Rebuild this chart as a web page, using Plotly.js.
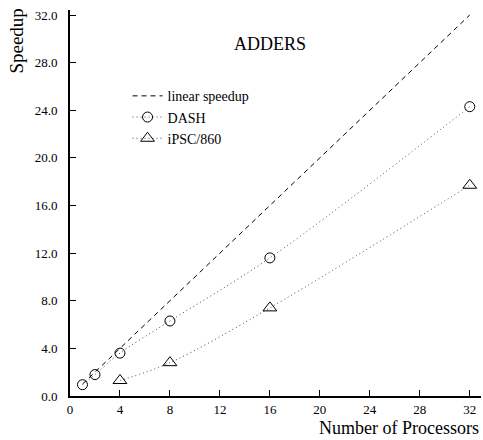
<!DOCTYPE html>
<html><head><meta charset="utf-8">
<script src="https://cdn.plot.ly/plotly-3.0.1.min.js"></script>
<style>html,body{margin:0;padding:0;background:#fff}#c{width:483px;height:440px}</style>
</head><body><div id="c"></div>
<script>
const linearX = [1, 2, 4, 8, 16, 32];
const linearY = [1, 2, 4, 8, 16, 32];
const dashX = [1, 2, 4, 8, 16, 32];
const dashY = [0.95, 1.8, 3.6, 6.3, 11.6, 24.3];
const ipscX = [4, 8, 16, 32];
const ipscY = [1.3, 2.8, 7.4, 17.7];
const xTicks = [0, 4, 8, 12, 16, 20, 24, 28, 32];
const yTicks = [0, 4, 8, 12, 16, 20, 24, 28, 32];
const yTickText = yTicks.map(v => v.toFixed(1));

const F = 'Liberation Serif';
const traces = [
  {x: linearX, y: linearY, name: 'linear speedup', mode: 'lines',
   line: {color: '#000', width: 1, dash: '5px,4px'}},
  {x: dashX, y: dashY, name: 'DASH', mode: 'lines+markers', line: {color: '#444', width: 1, dash: '1px,3px', shape: 'spline'},
   marker: {symbol: 'circle-open', size: 10, color: '#000', line: {width: 1}}},
  {x: ipscX, y: ipscY, name: 'iPSC/860', mode: 'lines+markers', line: {color: '#444', width: 1, dash: '1px,3px', shape: 'spline'},
   marker: {symbol: 'triangle-up-open', size: 12, color: '#000', line: {width: 1}}}
];
const layout = {
  width: 483, height: 440,
  margin: {l: 70, r: 2, t: 10, b: 44},
  paper_bgcolor: '#fff', plot_bgcolor: '#fff',
  font: {family: F, size: 13, color: '#000'},
  showlegend: true,
  legend: {x: 0.14, y: 0.818, xanchor: 'left', yanchor: 'top', bgcolor: 'rgba(0,0,0,0)',
    font: {family: F, size: 14}, tracegroupgap: 0, itemwidth: 30},
  xaxis: {range: [0, 32.9], tickvals: xTicks, ticktext: xTicks.map(String), ticks: 'inside', ticklen: 6,
    tickwidth: 1, tickcolor: '#000', showgrid: false, zeroline: false, showline: true, linewidth: 2,
    linecolor: '#000', tickfont: {family: F, size: 13}},
  yaxis: {range: [0, 32.42], tickvals: yTicks, ticktext: yTickText, ticks: 'inside', ticklen: 6,
    tickwidth: 1, tickcolor: '#000', showgrid: false, zeroline: false, showline: true, linewidth: 2,
    linecolor: '#000', tickfont: {family: F, size: 13}, ticklabelstandoff: 8},
  annotations: [
    {text: 'ADDERS', xref: 'paper', yref: 'paper', x: 0.4866, y: 0.944, showarrow: false,
     font: {family: F, size: 18}},
    {text: 'Speedup', xref: 'paper', yref: 'paper', x: -0.131, y: 1.008, xanchor: 'center', yanchor: 'top',
     textangle: -90, showarrow: false, font: {family: F, size: 19}},
    {text: 'Number of Processors', xref: 'paper', yref: 'paper', x: 1.0, y: -0.114, xanchor: 'right', yanchor: 'bottom',
     showarrow: false, font: {family: F, size: 18}}
  ]
};
Plotly.newPlot('c', traces, layout, {displayModeBar: false, staticPlot: true});
</script></body></html>
